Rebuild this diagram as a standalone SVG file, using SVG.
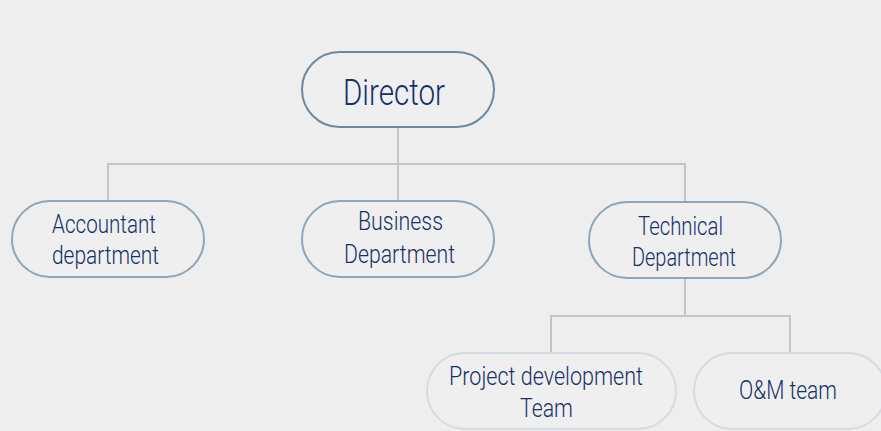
<svg xmlns="http://www.w3.org/2000/svg" width="881" height="431" viewBox="0 0 881 431">
<style>
.bg{fill:#eeeeee}
.n{fill:#efefef;stroke-width:2}
.top{stroke:#6d879d}
.mid{stroke:#8ea5b7}
.low{stroke:#d2dce4}
.t{font-family:Roboto,"Liberation Sans",Arial,sans-serif;font-weight:300;fill:#16306a;text-anchor:start}
.c{fill:none;stroke:#c4c4c4;stroke-width:2}
</style>
<rect class="bg" x="0" y="0" width="881" height="431"/>
<g id="connectors">
<polyline class="c" points="398,127 398,164"/>
<polyline class="c" points="108,201 108,164 685,164 685,202"/>
<polyline class="c" points="398,164 398,201"/>
<polyline class="c" points="685,278 685,316"/>
<polyline class="c" points="551,353 551,316 790,316 790,353"/>
</g>
<g id="director">
<rect class="n top" x="302" y="52" width="192" height="75" rx="37.5"/>
<text class="t" x="343" y="105" font-size="36" textLength="102" lengthAdjust="spacingAndGlyphs">Director</text>
</g>
<g id="accountant">
<rect class="n mid" x="12" y="201" width="192" height="76" rx="38"/>
<text class="t" x="52" y="233" font-size="25" textLength="104" lengthAdjust="spacingAndGlyphs">Accountant</text>
<text class="t" x="52" y="264" font-size="25" textLength="107" lengthAdjust="spacingAndGlyphs">department</text>
</g>
<g id="business">
<rect class="n mid" x="302" y="201" width="192" height="76" rx="38"/>
<text class="t" x="358" y="230" font-size="25" textLength="85" lengthAdjust="spacingAndGlyphs">Business</text>
<text class="t" x="344" y="263" font-size="25" textLength="111" lengthAdjust="spacingAndGlyphs">Department</text>
</g>
<g id="technical">
<rect class="n mid" x="589" y="202" width="192" height="76" rx="38"/>
<text class="t" x="638" y="235" font-size="25" textLength="85" lengthAdjust="spacingAndGlyphs">Technical</text>
<text class="t" x="632" y="266" font-size="25" textLength="104" lengthAdjust="spacingAndGlyphs">Department</text>
</g>
<g id="project">
<rect class="n low" x="427" y="353" width="249" height="76" rx="38"/>
<text class="t" x="449" y="385" font-size="25" textLength="194" lengthAdjust="spacingAndGlyphs">Project development</text>
<text class="t" x="520" y="417" font-size="25" textLength="53" lengthAdjust="spacingAndGlyphs">Team</text>
</g>
<g id="om">
<rect class="n low" x="694" y="353" width="192" height="76" rx="38"/>
<text class="t" x="739" y="399" font-size="25" textLength="98" lengthAdjust="spacingAndGlyphs">O&amp;M team</text>
</g>
</svg>
